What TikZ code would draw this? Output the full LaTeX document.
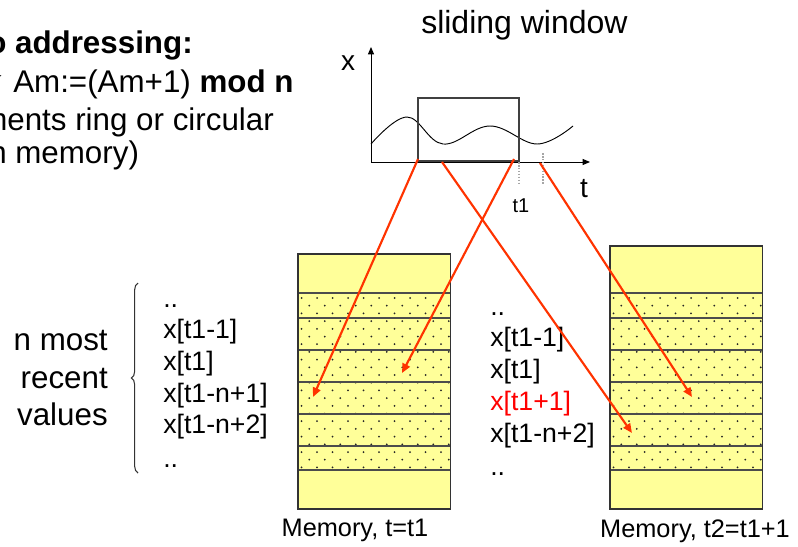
\documentclass[tikz,border=0pt]{standalone}
\usepackage{fontspec}
\setmainfont{Liberation Sans}
\usetikzlibrary{arrows.meta}
\usetikzlibrary{decorations.pathreplacing}

\definecolor{memyellow}{HTML}{FFFF99}
\definecolor{arrowred}{HTML}{FF3300}

\begin{document}
\begin{tikzpicture}[x=0.75pt,y=-0.75pt,
    bigtext/.style={inner sep=0pt,anchor=base west,font=\fontsize{23.5}{28}\selectfont},
    listtext/.style={inner sep=0pt,anchor=base west,font=\fontsize{20}{24}\selectfont},
    memlabel/.style={inner sep=0pt,anchor=base,font=\fontsize{19}{23}\selectfont},
    axislabel/.style={inner sep=0pt,font=\fontsize{21}{25}\selectfont},
    memblock/.style={draw=black!80,line width=0.8pt},
    rowline/.style={draw=black!70,line width=1pt},
    pointer/.style={draw=arrowred,line width=1.6pt,-{Triangle[length=7pt,width=6pt]}},
    axis/.style={line width=0.7pt,-{Triangle[length=5.5pt,width=4.5pt]}},
    tickline/.style={draw=black!35,line width=1.2pt,densely dotted}]

    \useasboundingbox (0,0) rectangle (798,546);

    % modulo addressing text (cut at the left border)
    \node[bigtext,font=\fontsize{23.5}{28}\selectfont\bfseries] (head) at (-13,53) {o addressing:};
    \node[bigtext,anchor=east] (bullet) at (4,78) {$\Rightarrow$};
    \node[bigtext] (rule) at (13,92) {Am:=(Am+1) \textbf{mod n}};
    \node[bigtext] (ring) at (-19,130) {ments ring or circular};
    \node[bigtext] (inmem) at (-11,163) {n memory)};

    % signal with sliding window
    \coordinate (origin) at (371,162);
    \draw[axis] (origin) -- (371,47);
    \draw[axis] (origin) -- (590,162);
    \node[axislabel] (xlab) at (348,63) {x};
    \node[axislabel] (tlab) at (584,189) {t};
    \node[inner sep=0pt,font=\fontsize{15}{18}\selectfont] (t1lab) at (521,206) {t1};
    \node[bigtext,font=\fontsize{24}{28}\selectfont] (title) at (421,33) {sliding window};
    \draw[line width=0.7pt] plot[smooth,tension=0.65] coordinates
        {(371,144) (407,117) (443,144) (490,126) (537,144) (573,126)};
    \draw[draw=black!75,line width=0.8pt] (418,98) rectangle (519,161);
    \draw[tickline] (519,162) -- (519,185);
    \draw[tickline] (543,153) -- (543,185);

    % memory blocks, t=t1 and t2=t1+1
    \foreach \xa/\top in {298/254,610/246}{
        \fill[memyellow] (\xa,\top) rectangle (\xa+152.5,509);
        \foreach \r in {0,...,22}{
            \foreach \c in {0,...,9}{
                \fill[black!85] ({\xa+3.5+\c*15.5+mod(\r,2)*7.75},{298+\r*7.7}) circle (0.75pt);
            }
        }
        \foreach \y in {293,318,350,382,414,446,470}{
            \draw[rowline] (\xa,\y) -- (\xa+152.5,\y);
        }
        \draw[memblock] (\xa,\top) rectangle (\xa+152.5,509);
    }
    \node[memlabel] (memLlab) at (355,536) {Memory, t=t1};
    \node[memlabel] (memRlab) at (695,537) {Memory, t2=t1+1};

    % contents at t1
    \draw[decorate,decoration={brace,amplitude=5pt},line width=0.8pt,black!80]
        (138,473) -- (138,283);
    \foreach \y/\lab [count=\i] in {350/n most,388/recent,425/values}{
        \node[bigtext,anchor=base east] (nmr\i) at (108,\y) {\lab};
    }
    \foreach \y/\lab [count=\i] in {307/..,338/x[t1-1],370/x[t1],402/x[t1-n+1],433/x[t1-n+2],467/..}{
        \node[listtext] (old\i) at (163,\y) {\lab};
    }

    % contents at t2
    \foreach \y/\lab/\col [count=\i] in {315/../black,346/x[t1-1]/black,378/x[t1]/black,
        410/x[t1+1]/red,442/x[t1-n+2]/black,475/../black}{
        \node[listtext,text=\col] (new\i) at (490,\y) {\lab};
    }

    % pointers from the window into memory
    \coordinate (winA) at (418,159);
    \coordinate (winB) at (514,159);
    \coordinate (winC) at (442,162);
    \coordinate (winD) at (540,163);
    \coordinate (slotA) at (313,397);
    \coordinate (slotB) at (402,373);
    \coordinate (slotC) at (632,433);
    \coordinate (slotD) at (692,397);
    \foreach \s/\e in {winA/slotA,winB/slotB,winC/slotC,winD/slotD}{
        \draw[pointer] (\s) -- (\e);
    }
\end{tikzpicture}
\end{document}
